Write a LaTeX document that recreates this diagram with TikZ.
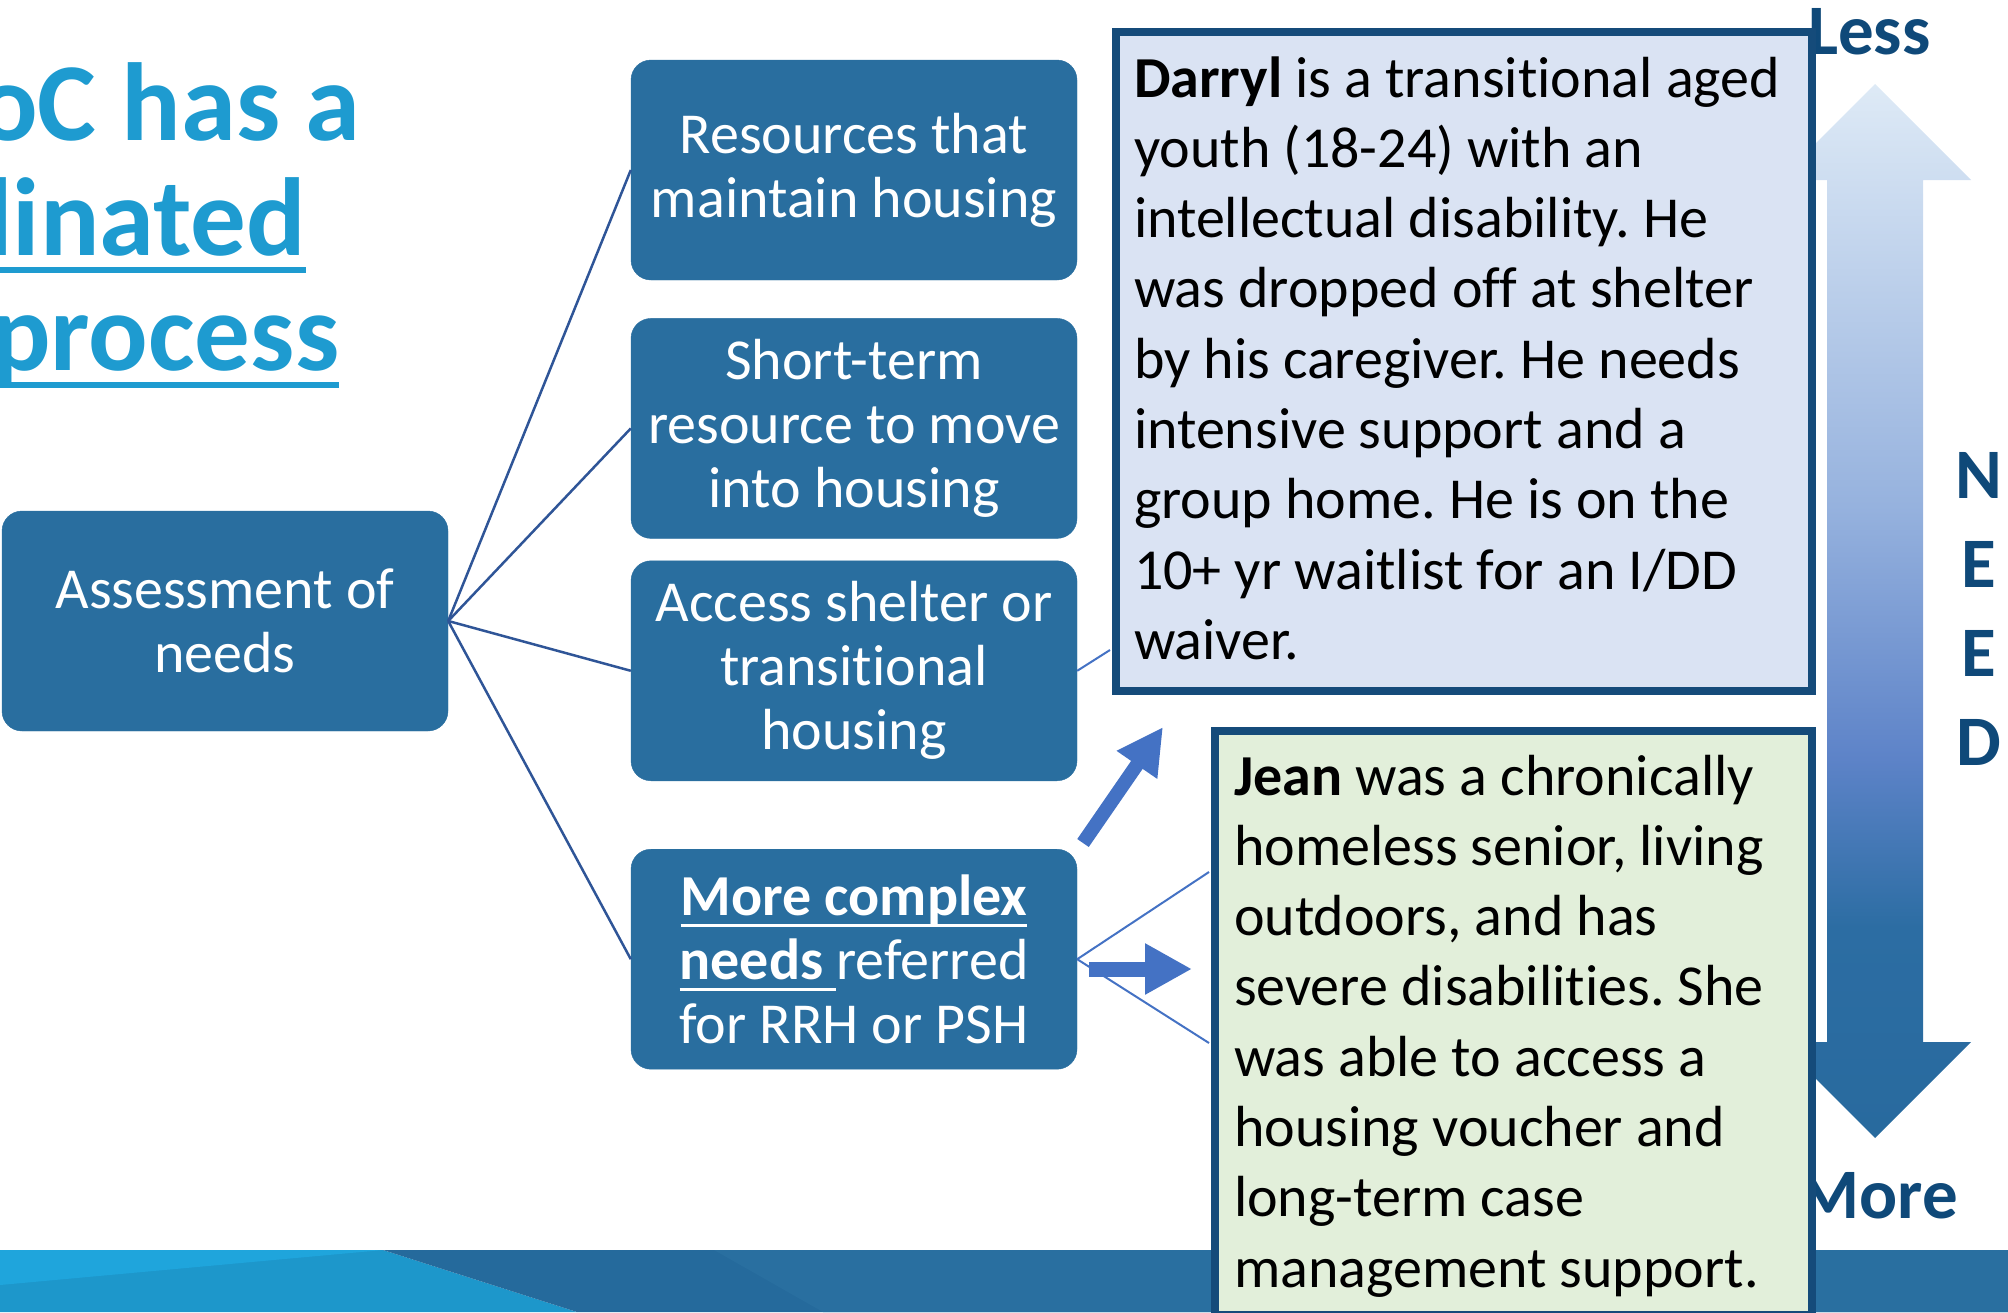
\documentclass[tikz,border=0pt]{standalone}
\usepackage{fontspec}
\setmainfont{Carlito}[Ligatures=NoCommon]
\usepackage{tikz}
\usetikzlibrary{positioning}
\usetikzlibrary{arrows.meta}
\usepackage{xcolor}

\definecolor{boxblue}{RGB}{41,110,159}
\definecolor{linkblue}{RGB}{47,85,151}
\definecolor{arrowblue}{RGB}{68,114,196}
\definecolor{darrylfill}{RGB}{218,227,243}
\definecolor{jeanfill}{RGB}{226,239,218}
\definecolor{edgeblue}{RGB}{21,75,122}
\definecolor{needtext}{RGB}{15,73,121}
\definecolor{titleblue}{RGB}{30,155,208}
\definecolor{needdark}{RGB}{40,106,158}
\definecolor{needdeep}{RGB}{44,109,163}
\definecolor{needmid}{RGB}{93,131,200}
\definecolor{needsoft}{RGB}{150,178,222}
\definecolor{needlight}{RGB}{222,234,246}
\definecolor{bandsky}{RGB}{31,165,220}
\definecolor{bandcyan}{RGB}{29,151,203}
\definecolor{banddeep}{RGB}{37,106,156}
\definecolor{bandsteel}{RGB}{41,111,160}

\pgfdeclareverticalshading{needfade}{100bp}{color(0bp)=(needdark); color(25bp)=(needdark); color(35bp)=(needdeep); color(43bp)=(needmid); color(55bp)=(needsoft); color(75bp)=(needlight); color(100bp)=(needlight)}

\newcommand{\lineunder}[3]{\setbox0\hbox{#3}\rlap{\rule[-#1]{\wd0}{#2}}\box0}
\newcommand{\tstrut}[1]{\rule{0pt}{#1}}
\newcommand{\bstrut}[1]{\rule[-#1]{0pt}{#1}}
\frenchspacing

\begin{document}
\begin{tikzpicture}[x=1pt, y=1pt,
needbox/.style={rectangle, rounded corners=20pt, fill=boxblue, draw=boxblue, text=white, minimum width=446pt, minimum height=220pt, inner sep=4pt, align=center, font=\fontsize{58}{64}\selectfont},
storybox/.style={rectangle, draw=edgeblue, line width=8pt, anchor=north west, inner ysep=0pt, align=flush left, font=\fontsize{58}{70.3}\selectfont},
treeline/.style={draw=linkblue, line width=2.5pt},
storyline/.style={draw=arrowblue, line width=2pt},
blockarrow/.style={draw=arrowblue, line width=14pt, -{Triangle[width=46pt,length=46pt]}},
needlabel/.style={text=needtext, inner sep=0pt, font=\fontsize{71}{89}\selectfont\bfseries},
titletext/.style={text=titleblue, inner sep=0pt, anchor=base west, font=\fontsize{111}{115}\selectfont\bfseries}]
\useasboundingbox (0,0) rectangle (2008,-1312);
\clip (0,0) rectangle (2008,-1312);

\fill[bandcyan] (0,-1250) -- (383,-1250) -- (577,-1312) -- (0,-1312) -- cycle;
\fill[bandsky] (0,-1250) -- (383,-1250) -- (0,-1285) -- cycle;
\fill[banddeep] (383,-1250) -- (2008,-1250) -- (2008,-1312) -- (577,-1312) -- cycle;
\fill[bandsteel] (714,-1250) -- (2008,-1250) -- (2008,-1312) -- (823,-1312) -- cycle;

\shade[shading=needfade] (1827,-180) -- (1779,-180) -- (1875,-84) -- (1971,-180) -- (1923,-180) -- (1923,-1042) -- (1971,-1042) -- (1875,-1138) -- (1779,-1042) -- (1827,-1042) -- cycle;
\node[needlabel, anchor=base west] (less) at (1808,-54) {Less};
\node[needlabel, anchor=base east] (more) at (1958,-1218) {More};
\node[needlabel, align=center] (need) at (1979,-609) {N\\E\\E\\D};

\node[titletext] (t1) at (-22,-140) {oC has a};
\node[titletext] (t2) at (-47,-255) {\lineunder{18pt}{6pt}{dinated}};
\node[titletext] (t3) at (-9,-370) {\lineunder{18pt}{6pt}{process}};

\node[needbox] (assess) at (225,-621) {Assessment of\\needs};
\node[needbox] (res) at (854,-170) {Resources that\\maintain housing};
\node[needbox] (short) [below=38pt of res] {Short-term\\resource to move\\into housing};
\node[needbox] (access) [below=22pt of short] {Access shelter or\\transitional\\housing};
\node[needbox] (complex) [below=68pt of access] {\lineunder{12pt}{3pt}{\textbf{More complex}}\\\lineunder{12pt}{3pt}{\textbf{needs }}referred\\for RRH or PSH};

\draw[treeline] (assess.east) -- (res.west);
\draw[treeline] (assess.east) -- (short.west);
\draw[treeline] (assess.east) -- (access.west);
\draw[treeline] (assess.east) -- (complex.west);

\coordinate (dtail) at (1110,-650);
\coordinate (jtop) at (1209,-872);
\coordinate (jbot) at (1209,-1043);
\draw[storyline] (access.east) -- (dtail);
\draw[storyline] (complex.east) -- (jtop);
\draw[storyline] (complex.east) -- (jbot);

\coordinate (upfoot) at (1083,-843);
\coordinate (uptip) at (1163,-727);
\coordinate (rtfoot) at (1089,-969);
\coordinate (rttip) at (1192,-969);
\draw[blockarrow] (upfoot) -- (uptip);
\draw[blockarrow, line width=15pt, -{Triangle[width=48pt,length=47pt]}] (rtfoot) -- (rttip);

\node[storybox, fill=darrylfill, text width=660pt, inner xsep=18pt] (darryl) at (1112,-28) {\tstrut{65pt}\textbf{Darryl} is a transitional aged\\youth (18-24) with an\\intellectual disability. He\\was dropped off at shelter\\by his caregiver. He needs\\intensive support and a\\group home. He is on the\\10+ yr waitlist for an I/DD\\waiver.\bstrut{32pt}};
\node[storybox, fill=jeanfill, text width=559pt, inner xsep=19pt] (jean) at (1211,-727) {\tstrut{64pt}\textbf{Jean} was a chronically\\homeless senior, living\\outdoors, and has\\severe disabilities. She\\was able to access a\\housing voucher and\\long-term case\\management support.\bstrut{28pt}};
\end{tikzpicture}
\end{document}
